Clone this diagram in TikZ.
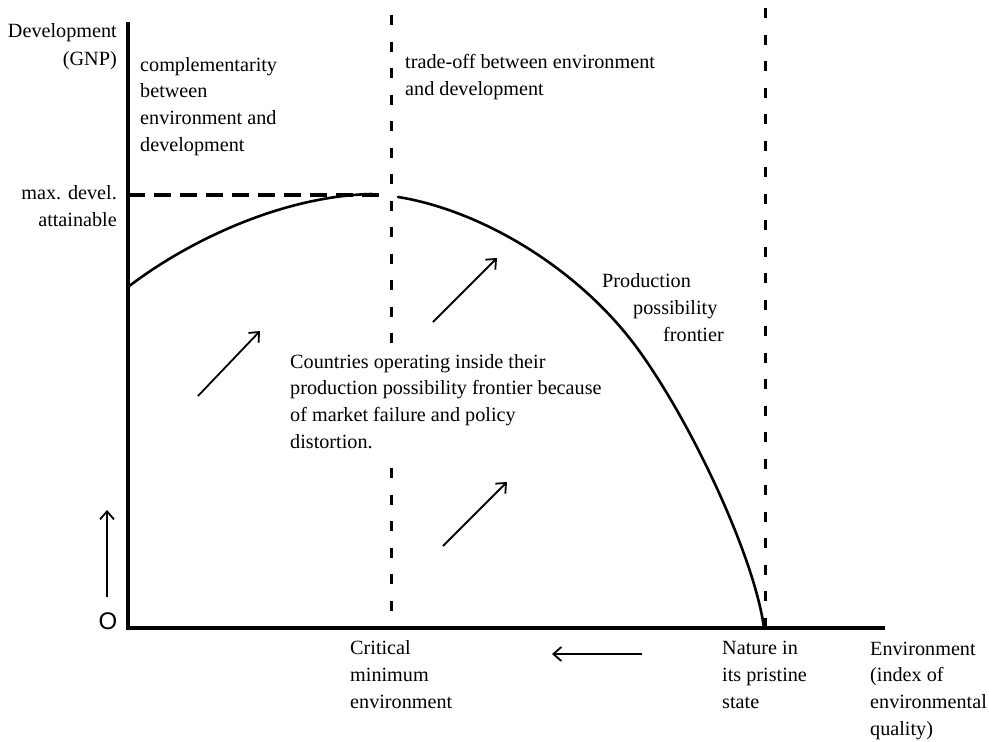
\documentclass[tikz,border=0pt]{standalone}
\usepackage{fontspec}
\setmainfont{Liberation Serif}
\newfontfamily\osans{Liberation Sans}
\usetikzlibrary{arrows.meta}
\begin{document}
\begin{tikzpicture}[x=1pt,y=-1pt,
  lbl/.style={inner sep=0pt, font=\fontsize{20.2}{26.6}\selectfont, align=left, anchor=base west},
  rlbl/.style={lbl, align=right, anchor=base east},
  axis/.style={line width=3.5pt},
  curve/.style={line width=2.6pt, line cap=round},
  vdash/.style={line width=3pt, dash pattern=on 10pt off 16.5pt},
  hdash/.style={line width=3.5pt, dash pattern=on 17pt off 9pt},
  move/.style={line width=1.8pt, -{Straight Barb[length=8pt,width=14pt,line width=1.8pt]}}
]
\useasboundingbox (0,0) rectangle (989,742);

% axes
\coordinate (O) at (128,628);
\coordinate (ytop) at (128,22);
\coordinate (xend) at (885,628);
\draw[axis] (ytop) -- (O) -- (xend);

% vertical dashed lines
\coordinate (c1top) at (391,15);
\coordinate (c1a) at (391,350);
\coordinate (c1b) at (391,468);
\coordinate (c1bot) at (391,628);
\coordinate (c2top) at (765,8);
\coordinate (c2bot) at (765,628);
\draw[vdash] (c1top) -- (c1a);
\draw[vdash] (c1b) -- (c1bot);
\draw[vdash] (c2top) -- (c2bot);

% max development dashed line
\coordinate (m0) at (128,195);
\coordinate (m1) at (385,195);
\draw[hdash] (m0) -- (m1);

% production possibility frontier
\coordinate (f0) at (128,287);
\coordinate (fpeak) at (372,194);
\coordinate (f1) at (398,197);
\coordinate (fmid) at (640,352);
\coordinate (fend) at (764,628);
\draw[curve] (f0) .. controls (185,243) and (280,196) .. (fpeak);
\draw[curve] (f1) .. controls (480,210) and (580,268) .. (fmid)
  .. controls (695,429) and (755,560) .. (fend);

% arrows
\coordinate (a1s) at (198,396); \coordinate (a1e) at (260,331);
\coordinate (a2s) at (433,322); \coordinate (a2e) at (497,258);
\coordinate (a3s) at (443,546); \coordinate (a3e) at (507,482);
\coordinate (a4s) at (642,654); \coordinate (a4e) at (552,654);
\coordinate (a5s) at (107,597); \coordinate (a5e) at (107,510);
\draw[move] (a1s) -- (a1e);
\draw[move] (a2s) -- (a2e);
\draw[move] (a3s) -- (a3e);
\draw[move] (a4s) -- (a4e);
\draw[move] (a5s) -- (a5e);

% labels (base anchor = baseline of the last line)
\node[lbl, font=\fontsize{24}{26}\osans, anchor=center] (orig) at (108,621) {O};
\node[rlbl, font=\fontsize{20.2}{28}\selectfont] (ylab) at (117,65) {Development\\(GNP)};
\node[rlbl] (maxd) at (117,226) {max. devel.\\attainable};
\node[lbl] (comp) at (140,151) {complementarity\\between\\environment and\\development};
\node[lbl] (trade) at (405,95) {trade-off between environment\\and development};
\node[lbl] (ppf1) at (602,287) {Production};
\node[lbl] (ppf2) at (633,314) {possibility};
\node[lbl] (ppf3) at (663,341) {frontier};
\node[lbl] (ctry) at (290,448) {Countries operating inside their\\production possibility frontier because\\of market failure and policy\\distortion.};
\node[lbl] (crit) at (350,708) {Critical\\minimum\\environment};
\node[lbl] (nat) at (722,708) {Nature in\\its pristine\\state};
\node[lbl] (envl) at (870,735) {Environment\\(index of\\environmental\\quality)};
\end{tikzpicture}
\end{document}
